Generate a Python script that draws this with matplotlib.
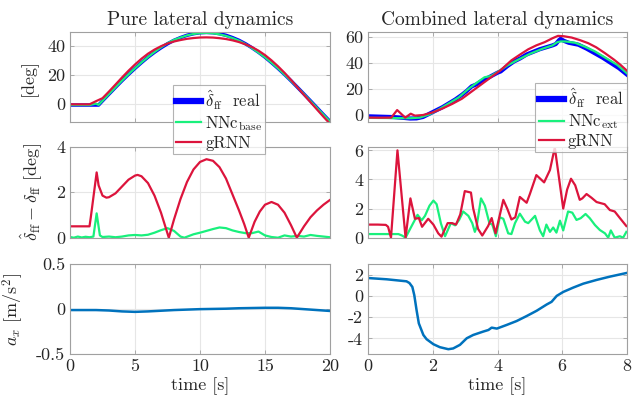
import matplotlib
matplotlib.use("Agg")
import matplotlib.pyplot as plt

plt.rcParams['font.family'] = 'serif'
plt.rcParams['font.serif'] = ['cmr10', 'DejaVu Serif']
plt.rcParams['mathtext.fontset'] = 'cm'
plt.rcParams['axes.unicode_minus'] = False
plt.rcParams['axes.formatter.use_mathtext'] = False

# ---------------- data: pure lateral dynamics ----------------
t_pure = [0, 0.5, 1, 1.5, 2, 2.2, 2.5, 3, 3.5, 4, 4.5, 5, 5.5, 6, 6.5, 7, 7.5, 8, 8.5, 9, 9.5,
          10, 10.5, 11, 11.5, 12, 12.5, 13, 13.5, 14, 14.5, 15, 15.5, 16, 16.5, 17, 17.5,
          18, 18.5, 19, 19.5, 20]
real_pure = [-1, -1, -1, -1, -1, -1, 1.9, 6.6, 11.3, 15.9, 20.3, 24.5, 28.5, 32.3, 35.7, 38.8,
             41.6, 44.0, 45.9, 47.5, 48.6, 49.3, 49.5, 49.3, 48.6, 47.5, 45.9, 44.0, 41.6, 38.8,
             35.7, 32.3, 28.5, 24.5, 20.3, 15.9, 11.3, 6.6, 1.9, -2.9, -7.7, -12.4]
nnc_pure = [-1.0, -1.0, -1.0, -1.0, 0.0, -0.9, 1.95, 6.65, 11.35, 15.95, 20.4, 24.6, 28.6, 32.4,
            35.9, 39.1, 42.0, 44.3, 45.95, 47.45, 48.4, 49.0, 49.15, 48.9, 48.15, 47.1, 45.6,
            43.75, 41.4, 38.6, 35.45, 32.2, 28.45, 24.5, 20.2, 15.85, 11.25, 6.55, 1.8, -3.0,
            -7.75, -12.45]
t_grnn_pure = [0, 0.5, 1, 1.5, 2.05, 2.5, 3, 3.5, 4, 4.5, 5, 5.5, 6, 6.5, 7, 7.5, 8, 8.5, 9, 9.5,
               10, 10.5, 11, 11.5, 12, 12.5, 13, 13.5, 14, 14.5, 15, 15.5, 16, 16.5, 17, 17.5,
               18, 18.5, 19, 19.5, 20]
grnn_pure = [-0.5, -0.5, -0.5, -0.5, 1.9, 3.75, 8.4, 13.25, 18.15, 22.85, 27.2, 31.2, 34.7,
             37.55, 39.9, 41.8, 43.2, 44.2, 45.05, 45.6, 45.97, 46.05, 45.92, 45.5, 44.9, 44.0,
             42.8, 41.2, 39.3, 36.8, 33.75, 30.07, 25.95, 21.4, 16.45, 11.25, 6.1, 1.0, -4.1,
             -9.15, -14.06]

t_err_grnn_pure = [0, 0.5, 1, 1.5, 1.6, 2.05, 2.2, 2.5, 2.8, 3, 3.5, 4, 4.5, 5, 5.2, 5.5, 6, 6.5,
                   7, 7.3, 7.6, 8, 8.5, 9, 9.5, 10, 10.5, 11, 11.5, 12, 12.5, 13, 13.4, 13.75,
                   14.2, 14.6, 15, 15.5, 16, 16.5, 17, 17.45, 18, 18.5, 19, 19.5, 20]
err_grnn_pure = [0.5, 0.5, 0.5, 0.5, 0.9, 2.87, 2.3, 1.85, 1.76, 1.78, 1.95, 2.25, 2.55, 2.73,
                 2.76, 2.7, 2.4, 1.85, 1.1, 0.55, 0.0, 0.8, 1.7, 2.45, 3.0, 3.33, 3.45, 3.38, 3.1,
                 2.6, 1.9, 1.2, 0.6, 0.0, 0.7, 1.15, 1.45, 1.57, 1.45, 1.1, 0.55, 0.0, 0.5, 0.9,
                 1.2, 1.45, 1.66]
t_err_nnc_pure = [0, 0.3, 0.6, 0.9, 1.2, 1.5, 1.8, 2.05, 2.3, 2.5, 3, 3.5, 4, 4.5, 5, 5.5, 6,
                  6.5, 7, 7.5, 8, 8.5, 8.8, 9.5, 10, 10.5, 11, 11.5, 12, 12.5, 13, 13.5, 14,
                  14.5, 15, 15.5, 16, 16.5, 17, 17.5, 18, 18.5, 19, 19.5, 20]
err_nnc_pure = [0.03, 0.0, 0.05, 0.01, 0.04, 0.02, 0.05, 1.07, 0.1, 0.03, 0.05, 0.02, 0.05, 0.1,
                0.12, 0.1, 0.13, 0.22, 0.33, 0.42, 0.3, 0.05, 0.0, 0.15, 0.22, 0.3, 0.38, 0.45,
                0.42, 0.32, 0.25, 0.2, 0.2, 0.27, 0.1, 0.03, 0.0, 0.1, 0.05, 0.08, 0.05, 0.12,
                0.08, 0.05, 0.02]
t_ax_pure = [0, 2, 3, 4, 5, 6, 8, 10, 12, 13, 15, 16, 17, 18, 19, 20]
ax_pure = [-0.01, -0.01, -0.015, -0.025, -0.03, -0.025, -0.01, 0.0, 0.005, 0.01, 0.015, 0.015,
           0.01, 0.0, -0.01, -0.02]

# ---------------- data: combined lateral dynamics ----------------
t_real_comb = [0, 0.4, 0.8, 1.1, 1.3, 1.5, 1.7, 1.9, 2.1, 2.3, 2.5, 2.7, 2.9, 3.05, 3.2, 3.35,
               3.5, 3.7, 3.85, 4.0, 4.1, 4.3, 4.5, 4.7, 4.9, 5.1, 5.3, 5.5, 5.7, 5.8, 5.9, 5.95,
               6.05, 6.2, 6.5, 6.75, 7.0, 7.25, 7.5, 7.75, 8.0]
real_comb = [-1.0, -1.3, -1.6, -2.2, -2.7, -2.6, -1.5, 1.0, 3.5, 6.0, 9.0, 12.0, 15.5, 18.5,
             22.0, 23.5, 26.0, 28.5, 30.5, 32.5, 33.5, 37.5, 41.0, 43.5, 46.5, 48.5, 50.5, 52.0,
             53.5, 54.5, 57.5, 58.5, 57.0, 55.5, 54.0, 51.0, 47.5, 44.0, 40.0, 36.0, 31.0]
t_nnc_comb = [0, 0.5, 1.0, 1.3, 1.6, 1.9, 2.2, 2.5, 2.8, 3.1, 3.4, 3.6, 3.8, 4.0, 4.3, 4.6, 5.0,
              5.4, 5.7, 5.85, 5.95, 6.1, 6.4, 6.7, 7.0, 7.4, 7.7, 8.0]
nnc_comb = [-2.2, -2.3, -2.4, -2.5, -2.0, 0.5, 4.5, 9.0, 13.5, 20.0, 25.5, 29.0, 30.0, 33.0,
            38.0, 42.0, 47.0, 51.0, 53.5, 56.0, 56.5, 56.5, 55.5, 52.5, 49.0, 43.0, 38.5, 32.0]
t_grnn_comb = [0, 0.4, 0.72, 0.9, 1.15, 1.32, 1.45, 1.7, 2.0, 2.3, 2.6, 2.9, 3.2, 3.5, 3.8, 4.1,
               4.43, 4.7, 4.95, 5.2, 5.46, 5.7, 5.87, 6.05, 6.29, 6.55, 6.8, 7.05, 7.32, 7.6,
               7.8, 8.0]
grnn_comb = [-2.0, -2.1, -2.0, 3.8, -2.0, 1.0, -0.5, 0.0, 2.0, 5.0, 8.5, 12.5, 18.0, 23.5, 29.0,
             34.5, 42.0, 46.5, 50.5, 53.5, 56.0, 59.0, 60.8, 60.5, 59.5, 57.5, 55.2, 52.0, 47.5,
             42.5, 38.5, 34.0]

t_err_grnn_comb = [0, 0.3, 0.55, 0.62, 0.71, 0.91, 1.16, 1.31, 1.45, 1.57, 1.67, 1.86, 2.02,
                   2.17, 2.27, 2.46, 2.6, 2.72, 2.85, 2.99, 3.18, 3.25, 3.4, 3.53, 3.71, 3.82,
                   3.94, 4.18, 4.3, 4.43, 4.55, 4.69, 4.9, 5.0, 5.2, 5.44, 5.62, 5.77, 6.03, 6.15,
                   6.27, 6.4, 6.54, 6.62, 6.75, 6.9, 7.06, 7.31, 7.47, 7.62, 7.78, 7.98]
err_grnn_comb = [0.9, 0.9, 0.88, 0.75, 0.0, 6.0, 0.0, 2.7, 1.3, 1.35, 0.75, 1.3, 0.9, 0.3, 0.07,
                 1.0, 1.0, 0.9, 1.6, 3.2, 3.1, 2.0, 0.6, 0.15, 0.8, 1.35, 0.3, 2.6, 2.0, 1.25,
                 1.4, 2.8, 2.4, 3.0, 4.3, 3.8, 4.65, 6.2, 2.0, 3.3, 4.05, 3.6, 2.6, 2.7, 3.0,
                 2.75, 2.45, 2.3, 1.9, 1.8, 1.35, 0.8]
t_err_nnc_comb = [0, 0.5, 0.94, 1.05, 1.16, 1.3, 1.53, 1.66, 1.76, 1.9, 2.02, 2.12, 2.25, 2.38,
                  2.56, 2.69, 2.81, 2.94, 3.1, 3.22, 3.3, 3.35, 3.49, 3.61, 3.75, 3.84, 3.95,
                  4.07, 4.18, 4.33, 4.43, 4.54, 4.69, 4.85, 4.95, 5.16, 5.31, 5.41, 5.51, 5.62,
                  5.72, 5.82, 5.93, 6.03, 6.18, 6.31, 6.44, 6.57, 6.72, 6.85, 7.01, 7.16, 7.32,
                  7.42, 7.5, 7.62, 7.78, 7.88, 7.98]
err_nnc_comb = [0.25, 0.25, 0.25, 0.15, 0.0, 0.6, 1.57, 1.2, 1.5, 2.2, 2.55, 2.3, 1.0, 0.1, 1.0,
                0.85, 1.2, 1.8, 1.5, 1.0, 0.4, 0.7, 2.7, 2.2, 1.0, 0.9, 0.1, 1.4, 1.3, 0.3,
                0.25, 1.0, 1.65, 1.1, 1.0, 1.5, 0.5, 0.1, 0.9, 0.4, 0.7, 0.35, 1.17, 0.5, 1.8,
                1.72, 1.22, 1.34, 1.63, 1.34, 0.87, 0.53, 0.3, 0.0, 0.5, 0.0, 0.1, 0.0, 0.4]
t_ax_comb = [0, 0.58, 1.19, 1.28, 1.37, 1.43, 1.5, 1.57, 1.71, 1.81, 2.02, 2.22, 2.48, 2.63,
             2.84, 3.05, 3.25, 3.56, 3.72, 3.82, 3.98, 4.28, 4.59, 4.9, 5.21, 5.52, 5.67, 5.83,
             6.03, 6.34, 6.65, 7.06, 7.47, 7.98]
ax_comb = [1.68, 1.56, 1.37, 1.21, 0.84, 0.06, -1.34, -2.59, -3.68, -4.08, -4.55, -4.83, -5.02,
           -4.95, -4.61, -3.99, -3.68, -3.36, -3.21, -2.99, -3.08, -2.74, -2.37, -1.9, -1.4,
           -0.81, -0.56, 0.0, 0.37, 0.78, 1.15, 1.5, 1.81, 2.15]

titles = ["Pure lateral dynamics", "Combined lateral dynamics"]
legend_left = [r"$\hat{\delta}_{\rm ff}$  real", r"NNc$_{\rm base}$", "gRNN"]
legend_right = [r"$\hat{\delta}_{\rm ff}$  real", r"NNc$_{\rm ext}$", "gRNN"]

# ---------------- styling ----------------
C_REAL = '#0000FF'
C_NNC = '#19F07C'
C_GRNN = '#DC143C'
C_AX = '#0072BD'
TXT = '#262626'
FS = 13
LFS = 12

fig = plt.figure(figsize=(6.43, 4.03), dpi=100)
W, H = 643.0, 403.0

def make_ax(x0, x1, y0, y1):
    return fig.add_axes([x0 / W, 1 - y1 / H, (x1 - x0) / W, (y1 - y0) / H])

colx = [(70, 330), (368, 627)]
rowy = [(31.7, 122.3), (146.7, 237.7), (264, 354.3)]
axs = [[make_ax(cx[0], cx[1], ry[0], ry[1]) for cx in colx] for ry in rowy]

for r in range(3):
    for c in range(2):
        a = axs[r][c]
        a.grid(True, color='#E6E6E6', linewidth=0.8)
        a.set_axisbelow(True)
        for s in a.spines.values():
            s.set_color('#A0A0A0')
            s.set_linewidth(0.8)
        a.tick_params(direction='in', length=3, width=0.6, colors='#A0A0A0',
                      labelcolor=TXT, labelsize=FS, top=True, right=True)
        if c == 0:
            a.set_xlim(0, 20)
            a.set_xticks([0, 5, 10, 15, 20])
        else:
            a.set_xlim(0, 8)
            a.set_xticks([0, 2, 4, 6, 8])
        if r < 2:
            a.tick_params(labelbottom=False)

def style_legend(leg):
    leg.get_frame().set_linewidth(0.8)
    leg.legend_handles[0].set_linewidth(4.5)
    for tx in leg.get_texts():
        tx.set_color(TXT)

leg_kw = dict(fontsize=LFS, frameon=True, fancybox=False, edgecolor='#A0A0A0',
              borderpad=0.2, labelspacing=0.15, handlelength=1.5, handletextpad=0.25,
              borderaxespad=0)

# top row
a = axs[0][0]
l1, = a.plot(t_pure, real_pure, color=C_REAL, lw=2.5)
l2, = a.plot(t_pure, nnc_pure, color=C_NNC, lw=1.6)
l3, = a.plot(t_grnn_pure, grnn_pure, color=C_GRNN, lw=1.6)
a.set_ylim(-13, 50)
a.set_yticks([0, 20, 40])
a.set_title(titles[0], fontsize=14, color=TXT, pad=5)
a.set_ylabel("[deg]", fontsize=FS, color=TXT)
a.yaxis.set_label_coords(-0.125, 0.5)
a.set_zorder(5)
leg = a.legend([l1, l2, l3], legend_left, loc='upper left', bbox_to_anchor=(0.395, 0.415),
               **leg_kw)
style_legend(leg)

a = axs[0][1]
m1, = a.plot(t_real_comb, real_comb, color=C_REAL, lw=3)
m2, = a.plot(t_nnc_comb, nnc_comb, color=C_NNC, lw=1.6)
m3, = a.plot(t_grnn_comb, grnn_comb, color=C_GRNN, lw=1.6)
a.set_ylim(-5.6, 64)
a.set_yticks([0, 20, 40, 60])
a.set_title(titles[1], fontsize=14, color=TXT, pad=5)
a.set_zorder(5)
leg2 = a.legend([m1, m2, m3], legend_right, loc='upper right', bbox_to_anchor=(1.0, 0.435),
                **leg_kw)
style_legend(leg2)

# middle row
a = axs[1][0]
a.plot(t_err_nnc_pure, err_nnc_pure, color=C_NNC, lw=1.6)
a.plot(t_err_grnn_pure, err_grnn_pure, color=C_GRNN, lw=1.6)
a.set_ylim(0, 4)
a.set_yticks([0, 2, 4])
a.set_ylabel(r"$\hat{\delta}_{\rm ff}-\delta_{\rm ff}$ [deg]", fontsize=FS, color=TXT)
a.yaxis.set_label_coords(-0.1, 0.5)

a = axs[1][1]
a.plot(t_err_nnc_comb, err_nnc_comb, color=C_NNC, lw=1.6)
a.plot(t_err_grnn_comb, err_grnn_comb, color=C_GRNN, lw=1.6)
a.set_ylim(0, 6.25)
a.set_yticks([0, 2, 4, 6])

# bottom row
a = axs[2][0]
a.plot(t_ax_pure, ax_pure, color=C_AX, lw=1.8)
a.set_ylim(-0.5, 0.5)
a.set_yticks([-0.5, 0, 0.5])
a.set_yticklabels(["-0.5", "0", "0.5"])
a.set_ylabel(r"$a_x$ [m/s$^2$]", fontsize=FS, color=TXT)
a.yaxis.set_label_coords(-0.17, 0.5)
a.set_xlabel("time [s]", fontsize=FS, color=TXT, labelpad=2)

a = axs[2][1]
a.plot(t_ax_comb, ax_comb, color=C_AX, lw=1.8)
a.set_ylim(-5.5, 3)
a.set_yticks([-4, -2, 0, 2])
a.set_xlabel("time [s]", fontsize=FS, color=TXT, labelpad=2)

fig.savefig("out.png", dpi=100)
